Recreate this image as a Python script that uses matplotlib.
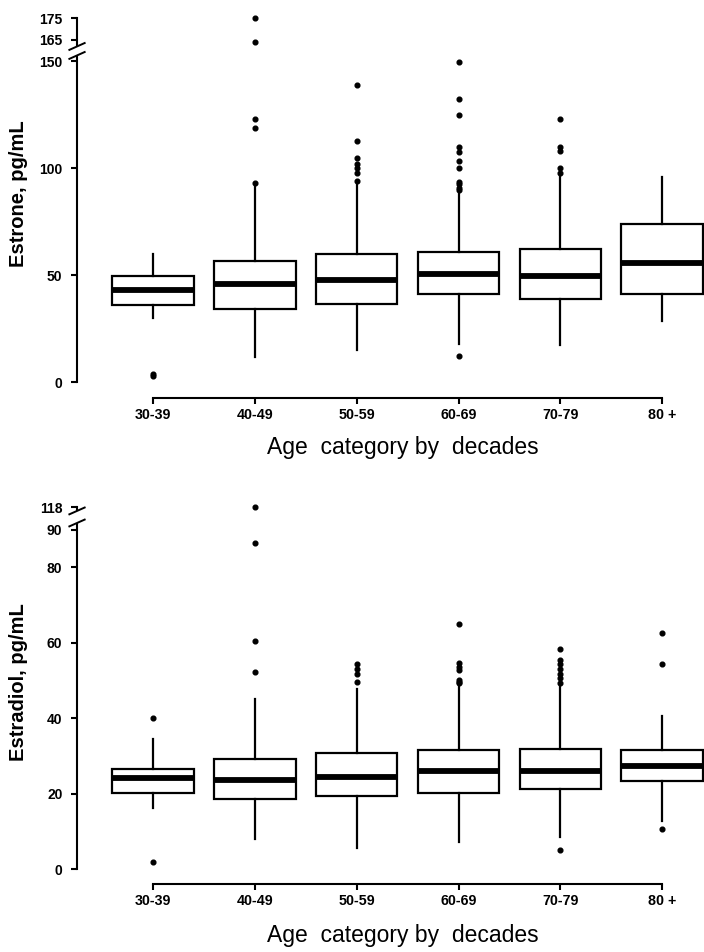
import matplotlib
matplotlib.use("Agg")
import matplotlib.pyplot as plt
from matplotlib.patches import Rectangle

plt.rcParams["font.family"] = ["Liberation Sans", "DejaVu Sans"]

# categories
groups = ["30-39", "40-49", "50-59", "60-69", "70-79", "80 +"]
positions = [1, 2, 3, 4, 5, 6]

# Estrone, pg/mL
estrone_q1 = [36, 34, 36.5, 41, 39, 41]
estrone_med = [43, 46, 47.7, 50.5, 49.5, 55.6]
estrone_q3 = [49.5, 56.5, 60, 60.7, 62, 74]
estrone_lo = [30, 11.7, 15, 17.8, 17.3, 28.5]
estrone_hi = [60, 91.5, 93, 88.5, 96.5, 95.8]
estrone_out = [
    [2.8, 3.6],
    [93, 118.7, 122.9, 164, 175],
    [94, 97.7, 100, 102, 104.7, 112.6, 138.8],
    [12, 89.5, 90.5, 92.5, 93.5, 100, 103.3, 107.5, 109.8, 124.8, 132.2, 149.5],
    [97.7, 100, 107.9, 109.8, 123],
    [],
]
estrone_ticks = [0, 50, 100, 150, 165, 175]

# Estradiol, pg/mL
estradiol_q1 = [20.1, 18.5, 19.3, 20.1, 21.3, 23.3]
estradiol_med = [24.1, 23.6, 24.5, 26.1, 26.1, 27.4]
estradiol_q3 = [26.5, 29.2, 30.9, 31.7, 31.9, 31.7]
estradiol_lo = [16.3, 8, 5.7, 7.1, 8.6, 12.8]
estradiol_hi = [34.5, 45.1, 47.7, 48.8, 48.8, 40.7]
estradiol_out = [
    [1.9, 40],
    [52.3, 60.5, 86.5, 118],
    [49.6, 51.7, 53, 54.4],
    [49.3, 49.7, 50.1, 52.8, 53.7, 54.6, 65],
    [5, 49.3, 50.7, 51.7, 53.1, 54.4, 55.4, 58.4],
    [10.5, 54.4, 62.6],
]
estradiol_ticks = [0, 20, 40, 60, 80, 90, 118]


def squash(values, cut, shift):
    # values above the axis break are moved down by shift
    return [v - shift if v > cut else v for v in values]


def make_stats(q1, med, q3, lo, hi, out, cut, shift):
    stats = []
    for i in range(len(q1)):
        stats.append({
            "q1": q1[i], "med": med[i], "q3": q3[i],
            "whislo": lo[i], "whishi": hi[i],
            "fliers": squash(out[i], cut, shift),
        })
    return stats


def draw_break(ax, y_mid, half_gap, half_h, x_spine, half_w):
    # white gap in the axis line, then two slashes
    ax.add_patch(Rectangle((x_spine - half_w * 0.4, y_mid - half_gap), half_w * 0.8,
                           2 * half_gap, facecolor="white", edgecolor="none",
                           clip_on=False, zorder=5))
    for dy in (-half_gap, half_gap):
        ax.plot([x_spine - half_w, x_spine + half_w],
                [y_mid + dy - half_h, y_mid + dy + half_h],
                color="black", lw=1.4, clip_on=False, zorder=6)


def draw_panel(ax, stats, ylim, ticks, cut, shift, ylabel, brk, label_y, xlabel_y):
    xlim = (0.255, 6.41)
    ax.bxp(stats, positions=positions, widths=0.8, showcaps=False, patch_artist=True,
           boxprops=dict(facecolor="white", edgecolor="black", linewidth=1.6),
           medianprops=dict(color="black", linewidth=4.2, solid_capstyle="butt"),
           whiskerprops=dict(color="black", linewidth=1.6),
           flierprops=dict(marker="o", markerfacecolor="black",
                           markeredgecolor="black", markersize=3.4))
    ax.set_xlim(xlim)
    ax.set_ylim(ylim)
    tick_pos = squash(ticks, cut, shift)
    ax.set_yticks(tick_pos)
    ax.set_yticklabels([str(t) for t in ticks], fontsize=10, fontweight="bold")
    ax.set_xticks(positions)
    ax.set_xticklabels(groups, fontsize=10.3, fontweight="bold")
    for s in ["top", "right"]:
        ax.spines[s].set_visible(False)
    ax.spines["left"].set_bounds(tick_pos[0], tick_pos[-1])
    ax.spines["bottom"].set_bounds(1, 6)
    for s in ["left", "bottom"]:
        ax.spines[s].set_linewidth(1.5)
    ax.tick_params(axis="y", length=4.5, width=1.5, pad=6)
    ax.tick_params(axis="x", length=4, width=1.5, pad=3)
    ax.set_ylabel(ylabel, fontsize=14.5, fontweight="bold", va="center")
    ax.yaxis.set_label_coords(-0.093, label_y)
    ax.set_xlabel("Age  category by  decades", fontsize=16.5, va="center")
    ax.xaxis.set_label_coords(0.52, xlabel_y)
    draw_break(ax, brk[0], brk[1], brk[2], xlim[0], 0.075)


fig = plt.figure(figsize=(7.04, 9.52), dpi=100)

ax1 = fig.add_axes([0.1094, 0.5819, 0.8906, 0.4055])
stats1 = make_stats(estrone_q1, estrone_med, estrone_q3, estrone_lo, estrone_hi,
                    estrone_out, 150, 5)
draw_panel(ax1, stats1, (-7.48, 172.9), estrone_ticks, 150, 5,
           "Estrone, pg/mL", (154.7, 2.1, 1.6), 0.53, -0.127)

ax2 = fig.add_axes([0.1094, 0.0714, 0.8906, 0.4034])
stats2 = make_stats(estradiol_q1, estradiol_med, estradiol_q3, estradiol_lo,
                    estradiol_hi, estradiol_out, 90, 22)
draw_panel(ax2, stats2, (-3.98, 97.9), estradiol_ticks, 90, 22,
           "Estradiol, pg/mL", (93.4, 1.6, 0.9), 0.526, -0.133)

plt.savefig("out.png", dpi=100)
plt.close()
